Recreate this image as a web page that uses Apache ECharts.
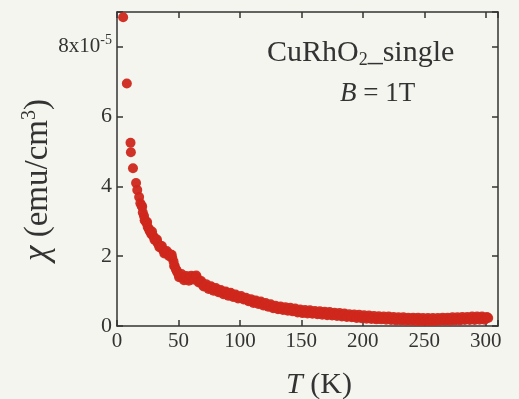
<!DOCTYPE html>
<html>
<head>
<meta charset="utf-8">
<script src="https://cdn.jsdelivr.net/npm/echarts@6/dist/echarts.min.js"></script>
<style>
  html, body { margin: 0; padding: 0; background: #f4f5ef; }
  #chart { width: 519px; height: 399px; }
</style>
</head>
<body>
<div id="chart"></div>
<script>
// temperature (K)
const temps = [
  5, 8, 11, 11.3, 13, 15.5, 16.5, 18, 19, 20, 21, 22, 23, 24, 25, 26, 27, 28, 29, 30,
  31, 32, 33, 34, 35, 36, 37, 38, 39, 40, 41, 42, 43, 44, 45, 46, 47, 48, 49, 50,
  51, 52, 53, 54, 55, 56, 57, 58, 59, 60, 61, 62, 63, 64, 65, 66, 67, 68, 69, 70,
  71, 72, 73, 74, 75, 76, 77, 78, 79, 80, 81, 82, 83, 84, 85, 86, 87, 88, 89, 90,
  91, 92, 93, 94, 95, 96, 97, 98, 99, 100, 102, 104, 106, 108, 110, 112, 114, 116, 118, 120,
  122, 124, 126, 128, 130, 132, 134, 136, 138, 140, 142, 144, 146, 148, 150, 152, 154, 156, 158, 160,
  162, 164, 166, 168, 170, 172, 174, 176, 178, 180, 182, 184, 186, 188, 190, 192, 194, 196, 198, 200,
  202, 204, 206, 208, 210, 212, 214, 216, 218, 220, 222, 224, 226, 228, 230, 232, 234, 236, 238, 240,
  242, 244, 246, 248, 250, 252, 254, 256, 258, 260, 262, 264, 266, 268, 270, 272, 274, 276, 278, 280,
  282, 284, 286, 288, 290, 292, 294, 296, 298, 300, 302
];
// susceptibility (x10^-5 emu/cm^3)
const chi = [
  8.85, 6.95, 5.25, 4.98, 4.52, 4.1, 3.9, 3.7, 3.52, 3.45, 3.25, 3.15, 3.02, 2.95, 2.84, 2.78, 2.7, 2.63, 2.6, 2.55,
  2.5, 2.44, 2.38, 2.33, 2.3, 2.25, 2.2, 2.16, 2.12, 2.1, 2.08, 2.07, 2.06, 2.0, 1.95, 1.85, 1.72, 1.62, 1.55, 1.48,
  1.45, 1.42, 1.4, 1.38, 1.37, 1.36, 1.37, 1.35, 1.38, 1.36, 1.4, 1.38, 1.41, 1.39, 1.38, 1.32, 1.28, 1.25, 1.22, 1.18,
  1.16, 1.15, 1.13, 1.12, 1.11, 1.09, 1.1, 1.07, 1.06, 1.05, 1.03, 1.02, 1.0, 0.99, 0.98, 0.97, 0.96, 0.94, 0.95, 0.93,
  0.92, 0.9, 0.9, 0.88, 0.87, 0.86, 0.85, 0.84, 0.83, 0.82, 0.8, 0.78, 0.75, 0.73, 0.71, 0.7, 0.68, 0.66, 0.65, 0.62,
  0.6, 0.58, 0.56, 0.54, 0.52, 0.51, 0.5, 0.49, 0.48, 0.47, 0.46, 0.45, 0.44, 0.42, 0.41, 0.41, 0.4, 0.4, 0.39, 0.38,
  0.38, 0.37, 0.37, 0.36, 0.36, 0.35, 0.34, 0.33, 0.33, 0.32, 0.31, 0.31, 0.3, 0.29, 0.29, 0.28, 0.27, 0.27, 0.26, 0.26,
  0.25, 0.25, 0.24, 0.24, 0.23, 0.23, 0.23, 0.22, 0.22, 0.22, 0.21, 0.21, 0.21, 0.2, 0.2, 0.2, 0.2, 0.19, 0.19, 0.19,
  0.19, 0.19, 0.18, 0.18, 0.18, 0.18, 0.18, 0.18, 0.18, 0.18, 0.18, 0.19, 0.18, 0.19, 0.19, 0.19, 0.2, 0.2, 0.2, 0.2,
  0.21, 0.21, 0.21, 0.21, 0.22, 0.21, 0.22, 0.22, 0.22, 0.22, 0.23
];
// second, interleaved sweep of readings (scatter in the band)
const temps2 = [
  20.5, 22.5, 24.5, 26.5, 28.5, 30.5, 32.5, 34.5, 36.5, 38.5, 40.5, 42.5, 44.5, 46.5, 48.5, 50.5, 52.5, 54.5, 56.5, 58.5,
  60.5, 62.5, 64.5, 66.5, 68.5, 70.5, 72.5, 74.5, 76.5, 78.5, 80.5, 82.5, 84.5, 86.5, 88.5, 90.5, 92.5, 94.5, 96.5, 98.5,
  101, 103, 105, 107, 109, 111, 113, 115, 117, 119, 121, 123, 125, 127, 129, 131, 133, 135, 137, 139,
  141, 143, 145, 147, 149, 151, 153, 155, 157, 159, 161, 163, 165, 167, 169, 171, 173, 175, 177, 179,
  181, 183, 185, 187, 189, 191, 193, 195, 197, 199, 201, 203, 205, 207, 209, 211, 213, 215, 217, 219,
  221, 223, 225, 227, 229, 231, 233, 235, 237, 239, 241, 243, 245, 247, 249, 251, 253, 255, 257, 259,
  261, 263, 265, 267, 269, 271, 273, 275, 277, 279, 281, 283, 285, 287, 289, 291, 293, 295, 297, 299, 301
];
const chi2 = [
  3.42, 3.03, 2.98, 2.74, 2.71, 2.47, 2.48, 2.26, 2.29, 2.08, 2.15, 2.0, 2.04, 1.72, 1.6, 1.40, 1.49, 1.31, 1.43, 1.30,
  1.44, 1.33, 1.45, 1.25, 1.29, 1.13, 1.20, 1.06, 1.14, 1.01, 1.09, 0.97, 1.03, 0.91, 0.99, 0.87, 0.95, 0.83, 0.90, 0.79,
  0.86, 0.76, 0.81, 0.71, 0.77, 0.66, 0.73, 0.63, 0.70, 0.59, 0.66, 0.55, 0.62, 0.51, 0.58, 0.48, 0.56, 0.46, 0.54, 0.44,
  0.52, 0.42, 0.50, 0.39, 0.47, 0.37, 0.46, 0.36, 0.45, 0.35, 0.43, 0.34, 0.42, 0.32, 0.41, 0.31, 0.40, 0.30, 0.38, 0.29,
  0.37, 0.27, 0.36, 0.26, 0.34, 0.25, 0.33, 0.23, 0.32, 0.22, 0.31, 0.21, 0.30, 0.20, 0.29, 0.19, 0.28, 0.19, 0.27, 0.18,
  0.27, 0.17, 0.26, 0.16, 0.25, 0.16, 0.25, 0.15, 0.24, 0.15, 0.24, 0.14, 0.24, 0.14, 0.23, 0.14, 0.23, 0.14, 0.23, 0.14,
  0.23, 0.15, 0.24, 0.15, 0.24, 0.15, 0.25, 0.16, 0.25, 0.16, 0.26, 0.17, 0.26, 0.17, 0.27, 0.17, 0.27, 0.18, 0.27, 0.18, 0.26
];
const xTicks = [0, 50, 100, 150, 200, 250, 300];
const yTicks = [0, 2, 4, 6, 8];

const INK = "#333333";
const DOT = "#cf271b";
const SERIF = "'Liberation Serif', 'DejaVu Serif', serif";

const chart = echarts.init(document.getElementById("chart"));

const tickOnly = { show: true, inside: true, length: 6, lineStyle: { color: INK, width: 1.5 } };
const frameLine = { show: true, onZero: false, lineStyle: { color: INK, width: 1.5 } };

chart.setOption({
  backgroundColor: "#f4f5ef",
  animation: false,
  grid: { left: 117, right: 21, top: 12, bottom: 73 },
  xAxis: [
    {
      type: "value", min: 0, max: 310, interval: 50,
      axisLine: frameLine, axisTick: tickOnly, splitLine: { show: false },
      axisLabel: {
        color: INK, fontFamily: SERIF, fontSize: 21, margin: 5,
        formatter: (v) => (xTicks.includes(v) ? String(v) : ""),
      },
    },
    {
      type: "value", position: "top", min: 0, max: 310, interval: 50,
      axisLine: frameLine, axisTick: tickOnly, axisLabel: { show: false }, splitLine: { show: false },
    },
  ],
  yAxis: [
    {
      type: "value", min: 0, max: 9, interval: 2,
      axisLine: frameLine, axisTick: tickOnly, splitLine: { show: false },
      axisLabel: {
        color: INK, fontFamily: SERIF, fontSize: 22, margin: 5,
        formatter: (v) => {
          if (!yTicks.includes(v)) return "";
          return v === 8 ? "{n|8x10}{s|-5}" : String(v);
        },
        rich: {
          n: { fontFamily: SERIF, fontSize: 21, color: INK },
          s: { fontFamily: SERIF, fontSize: 14, color: INK, verticalAlign: "top", padding: [0, 0, 14, 0] },
        },
      },
    },
    {
      type: "value", position: "right", min: 0, max: 9, interval: 2,
      axisLine: frameLine, axisTick: tickOnly, axisLabel: { show: false }, splitLine: { show: false },
    },
  ],
  graphic: [
    {
      type: "text", x: 38, y: 180, rotation: Math.PI / 2,
      style: {
        text: "{i|χ} (emu/cm{s|3})",
        fill: INK, font: "33px " + SERIF, align: "center", verticalAlign: "middle",
        rich: {
          i: { fontFamily: SERIF, fontStyle: "italic", fontSize: 35, fill: INK },
          s: { fontFamily: SERIF, fontSize: 20, fill: INK, verticalAlign: "top", padding: [0, 0, 16, 0] },
        },
      },
    },
    {
      type: "text", x: 319, y: 385,
      style: {
        text: "{i|T} (K)",
        fill: INK, font: "30px " + SERIF, align: "center", verticalAlign: "middle",
        rich: { i: { fontFamily: SERIF, fontStyle: "italic", fontSize: 30, fill: INK } },
      },
    },
    {
      type: "text", left: 267, top: 38,
      style: {
        text: "CuRhO{s|2}_single",
        fill: INK, font: "30px " + SERIF,
        rich: { s: { fontFamily: SERIF, fontSize: 18, fill: INK, verticalAlign: "bottom", padding: [14, 0, 0, 0] } },
      },
    },
    {
      type: "text", left: 340, top: 80,
      style: {
        text: "{i|B} = 1T",
        fill: INK, font: "27px " + SERIF,
        rich: { i: { fontFamily: SERIF, fontStyle: "italic", fontSize: 27, fill: INK } },
      },
    },
  ],
  series: [
    {
      type: "scatter",
      data: temps.map((t, i) => [t, chi[i]]),
      symbolSize: 10,
      itemStyle: { color: DOT, opacity: 0.95 },
    },
    {
      type: "scatter",
      data: temps2.map((t, i) => [t, chi2[i]]),
      symbolSize: 10,
      itemStyle: { color: DOT, opacity: 0.95 },
    },
  ],
});
</script>
</body>
</html>
